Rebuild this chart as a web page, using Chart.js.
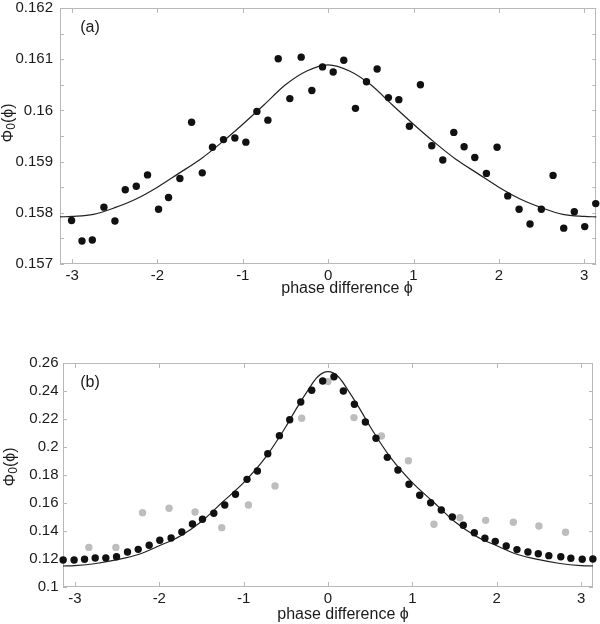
<!DOCTYPE html>
<html>
<head>
<meta charset="utf-8">
<script src="https://cdn.jsdelivr.net/npm/chart.js@4.4.0/dist/chart.umd.min.js"></script>
<style>
  html, body { margin: 0; padding: 0; background: #fff; }
  #wrap { position: relative; width: 600px; height: 624px; }
  canvas { position: absolute; left: 0; }
  #panelA { top: 0; }
  #panelB { top: 310px; }
</style>
</head>
<body>
<div id="wrap">
  <canvas id="panelA" width="600" height="310"></canvas>
  <canvas id="panelB" width="600" height="314"></canvas>
</div>
<script>
/**
 * Phase-difference distribution, two panels (a) and (b)
 * Values.
 */

// ---- panel (a): measured points ----
const phiA = [-3.006, -2.884, -2.763, -2.627, -2.498, -2.377, -2.248, -2.116, -1.987, -1.870,
  -1.737, -1.600, -1.475, -1.355, -1.226, -1.093, -0.964, -0.835, -0.706, -0.585,
  -0.449, -0.316, -0.191, -0.066, 0.059, 0.183, 0.320, 0.449, 0.574, 0.706,
  0.828, 0.952, 1.081, 1.214, 1.343, 1.472, 1.593, 1.718, 1.854, 1.979,
  2.104, 2.237, 2.365, 2.498, 2.635, 2.760, 2.884, 3.006, 3.135];
const valA = [0.15785, 0.15745, 0.15747, 0.15811, 0.15784, 0.15845, 0.15852, 0.15874, 0.15807, 0.15830,
  0.15867, 0.15977, 0.15878, 0.15928, 0.15943, 0.15946, 0.15938, 0.15998, 0.15981, 0.16101,
  0.16023, 0.16104, 0.16039, 0.16085, 0.16075, 0.16098, 0.16004, 0.16056, 0.16081, 0.16025,
  0.16021, 0.15969, 0.16050, 0.15931, 0.15903, 0.15957, 0.15929, 0.15908, 0.15877, 0.15928,
  0.15833, 0.15807, 0.15778, 0.15807, 0.15873, 0.15770, 0.15802, 0.15773, 0.15818];

// ---- panel (a): fitted curve ----
const fitPhiA = [-3.1416, -3, -2.75, -2.5, -2.25, -2, -1.75, -1.5, -1.25, -1, -0.75, -0.5, -0.25, 0,
  0.25, 0.5, 0.75, 1, 1.25, 1.5, 1.75, 2, 2.25, 2.5, 2.75, 3, 3.1416];
const fitValA = [0.15792, 0.15793, 0.15797, 0.15810, 0.15827, 0.15850, 0.15877, 0.15904, 0.15937, 0.15973, 0.16011, 0.16050, 0.16077, 0.16089,
  0.16077, 0.16050, 0.16011, 0.15973, 0.15937, 0.15904, 0.15877, 0.15850, 0.15827, 0.15810, 0.15797, 0.15793, 0.15792];

// ---- panel (b): black points ----
const phiB = [-3.140, -3.010, -2.886, -2.760, -2.634, -2.507, -2.377, -2.250, -2.120, -1.994,
  -1.860, -1.733, -1.607, -1.488, -1.354, -1.224, -1.097, -0.960, -0.837, -0.714,
  -0.576, -0.454, -0.323, -0.193, -0.063, 0.071, 0.182, 0.313, 0.443, 0.569,
  0.703, 0.829, 0.960, 1.087, 1.217, 1.343, 1.474, 1.604, 1.735, 1.860,
  1.983, 2.113, 2.240, 2.370, 2.493, 2.618, 2.760, 2.879, 3.014, 3.140];
const valB = [0.1193, 0.1193, 0.1198, 0.1207, 0.1207, 0.1216, 0.1250, 0.1269, 0.1298, 0.1334,
  0.1350, 0.1393, 0.1450, 0.1484, 0.1527, 0.1586, 0.1662, 0.1769, 0.1829, 0.1952,
  0.2081, 0.2195, 0.2321, 0.2405, 0.2471, 0.2502, 0.2400, 0.2305, 0.2179, 0.2062,
  0.1926, 0.1836, 0.1734, 0.1655, 0.1602, 0.1550, 0.1500, 0.1441, 0.1388, 0.1348,
  0.1326, 0.1293, 0.1267, 0.1250, 0.1238, 0.1224, 0.1216, 0.1205, 0.1198, 0.1200];

// ---- panel (b): grey points ----
const phiGrey = [-2.835, -2.515, -2.199, -1.884, -1.576, -1.260, -0.943, -0.628, -0.312, 0,
  0.308, 0.633, 0.953, 1.256, 1.564, 1.869, 2.197, 2.500, 2.816];
const valGrey = [0.1283, 0.1283, 0.1531, 0.1562, 0.1536, 0.1424, 0.1586, 0.1722, 0.2205, 0.2467,
  0.2210, 0.2079, 0.1902, 0.1448, 0.1495, 0.1476, 0.1462, 0.1436, 0.1391];

// ---- panel (b): fitted curve ----
const fitPhiB = [-3.1416, -3, -2.75, -2.5, -2.25, -2, -1.75, -1.5, -1.25, -1, -0.75, -0.5, -0.375, -0.25, -0.125, 0,
  0.125, 0.25, 0.375, 0.5, 0.75, 1, 1.25, 1.5, 1.75, 2, 2.25, 2.5, 2.75, 3, 3.1416];
const fitValB = [0.1150, 0.1153, 0.1168, 0.1195, 0.1232, 0.1295, 0.1365, 0.1468, 0.1607, 0.1745, 0.1918, 0.2145, 0.2274, 0.2394, 0.2500, 0.2538,
  0.2500, 0.2394, 0.2274, 0.2145, 0.1918, 0.1745, 0.1607, 0.1468, 0.1365, 0.1295, 0.1232, 0.1195, 0.1168, 0.1153, 0.1150];

// ---- ticks ----
const xTicks = [-3, -2, -1, 0, 1, 2, 3];
const yTicksA = [0.157, 0.158, 0.159, 0.160, 0.161, 0.162];
const yMinorA = [0.1575, 0.1585, 0.1595, 0.1605, 0.1615];
const yTicksB = [0.10, 0.12, 0.14, 0.16, 0.18, 0.20, 0.22, 0.24, 0.26];

const FONT = "'Liberation Sans', Arial, Helvetica, sans-serif";
const TEXT_COLOR = '#1a1a1a';
const FRAME_COLOR = '#b8b8b8';
const PHI = '\u03D5';

function toPoints(xs, ys) {
    return xs.map((x, i) => ({ x: x, y: ys[i] }));
}

/**
 * Frame, inward tick marks, axis titles and panel tag
 */
const panelDecor = {
    id: 'panelDecor',
    beforeDatasetsDraw(chart, args, opts) {
        const { ctx, chartArea: a, scales: { x, y } } = chart;
        ctx.save();
        ctx.strokeStyle = FRAME_COLOR;
        ctx.lineWidth = 1;
        ctx.strokeRect(Math.round(a.left) + 0.5, Math.round(a.top) + 0.5,
            Math.round(a.right - a.left) - 1, Math.round(a.bottom - a.top) - 1);
        ctx.beginPath();
        x.ticks.forEach(t => {
            const px = Math.round(x.getPixelForValue(t.value)) + 0.5;
            ctx.moveTo(px, a.top); ctx.lineTo(px, a.top + 5);
            ctx.moveTo(px, a.bottom); ctx.lineTo(px, a.bottom - 5);
        });
        y.ticks.map(t => t.value).concat(opts.minorY || []).forEach(v => {
            const py = Math.round(y.getPixelForValue(v)) + 0.5;
            ctx.moveTo(a.left, py); ctx.lineTo(a.left + 4, py);
            ctx.moveTo(a.right, py); ctx.lineTo(a.right - 4, py);
        });
        ctx.stroke();
        ctx.restore();
    },
    afterDraw(chart, args, opts) {
        const ctx = chart.ctx;
        ctx.save();
        ctx.fillStyle = TEXT_COLOR;
        ctx.textBaseline = 'middle';

        // panel tag
        ctx.font = '16px ' + FONT;
        ctx.textAlign = 'center';
        ctx.fillText(opts.tag, opts.tagPos[0], opts.tagPos[1]);

        // x title
        ctx.fillText('phase difference ' + PHI, opts.xTitlePos[0], opts.xTitlePos[1]);

        // y title, rotated: Φ0(ϕ) with subscript 0
        ctx.translate(opts.yTitlePos[0], opts.yTitlePos[1]);
        ctx.rotate(-Math.PI / 2);
        ctx.textAlign = 'left';
        const big = '16px ' + FONT, small = '12px ' + FONT;
        ctx.font = big;
        const w1 = ctx.measureText('\u03A6').width;
        const w3 = ctx.measureText('(' + PHI + ')').width;
        ctx.font = small;
        const w2 = ctx.measureText('0').width;
        let cx = -(w1 + w2 + w3) / 2;
        ctx.font = big;
        ctx.fillText('\u03A6', cx, 0); cx += w1;
        ctx.font = small;
        ctx.fillText('0', cx, 3); cx += w2;
        ctx.font = big;
        ctx.fillText('(' + PHI + ')', cx, 0);
        ctx.restore();
    }
};

function makePanel(canvasId, cfg) {
    return new Chart(document.getElementById(canvasId), {
        type: 'scatter',
        data: { datasets: cfg.datasets },
        options: {
            responsive: false,
            devicePixelRatio: 1,
            animation: false,
            layout: { padding: cfg.padding },
            plugins: {
                legend: { display: false },
                tooltip: { enabled: false },
                panelDecor: cfg.decor
            },
            scales: {
                x: {
                    type: 'linear',
                    min: -Math.PI,
                    max: Math.PI,
                    grid: { display: false, drawTicks: false },
                    border: { display: false },
                    afterBuildTicks: s => { s.ticks = xTicks.map(v => ({ value: v })); },
                    afterFit: s => { s.height = cfg.xHeight; },
                    ticks: {
                        padding: cfg.xPad,
                        color: TEXT_COLOR,
                        font: { family: FONT, size: 15 },
                        maxRotation: 0,
                        callback: v => String(v)
                    }
                },
                y: {
                    type: 'linear',
                    min: cfg.yMin,
                    max: cfg.yMax,
                    grid: { display: false, drawTicks: false },
                    border: { display: false },
                    afterBuildTicks: s => { s.ticks = cfg.yTicks.map(v => ({ value: v })); },
                    afterFit: s => { s.width = cfg.yWidth; s.paddingTop = 0; s.paddingBottom = 0; },
                    ticks: {
                        padding: cfg.yPad,
                        color: TEXT_COLOR,
                        font: { family: FONT, size: 15 },
                        callback: v => String(+v.toFixed(cfg.yDigits))
                    }
                }
            }
        },
        plugins: [panelDecor]
    });
}

const dotStyle = { showLine: false, pointRadius: 3.7, pointBorderWidth: 0, pointHoverRadius: 3.7, clip: false };
const fitStyle = {
    showLine: true, pointRadius: 0, borderColor: '#222', borderWidth: 1.2,
    cubicInterpolationMode: 'monotone', fill: false, clip: false
};

makePanel('panelA', {
    datasets: [
        Object.assign({ label: 'data', data: toPoints(phiA, valA), pointBackgroundColor: '#111' }, dotStyle),
        Object.assign({ label: 'fit', data: toPoints(fitPhiA, fitValA) }, fitStyle)
    ],
    padding: { top: 8, right: 3, bottom: 0, left: 0 },
    xHeight: 46, xPad: 3,
    yWidth: 60, yPad: 7,
    yMin: 0.157, yMax: 0.162, yTicks: yTicksA, yDigits: 3,
    decor: { tag: '(a)', tagPos: [90, 28], xTitlePos: [347, 289], yTitlePos: [9, 123], minorY: yMinorA }
});

makePanel('panelB', {
    datasets: [
        Object.assign({ label: 'data', data: toPoints(phiB, valB), pointBackgroundColor: '#111' }, dotStyle),
        Object.assign({ label: 'grey', data: toPoints(phiGrey, valGrey), pointBackgroundColor: '#bdbdbd' }, dotStyle),
        Object.assign({ label: 'fit', data: toPoints(fitPhiB, fitValB) }, fitStyle)
    ],
    padding: { top: 53, right: 7, bottom: 0, left: 0 },
    xHeight: 37, xPad: 3,
    yWidth: 63, yPad: 4.5,
    yMin: 0.10, yMax: 0.26, yTicks: yTicksB, yDigits: 2,
    decor: { tag: '(b)', tagPos: [90, 73], xTitlePos: [343, 305], yTitlePos: [11, 157] }
});
</script>
</body>
</html>
